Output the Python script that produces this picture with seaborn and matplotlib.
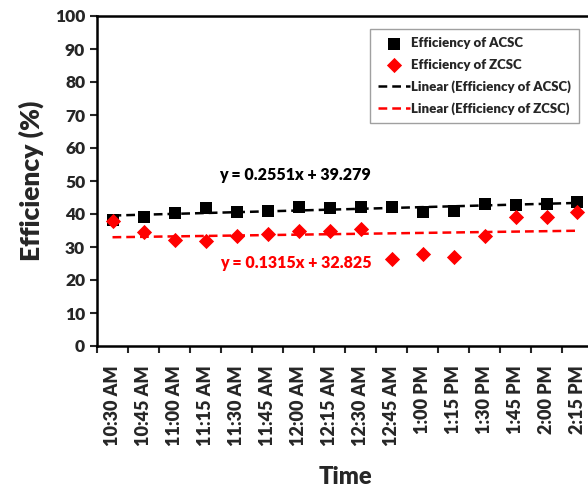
import numpy as np
import pandas as pd
import matplotlib.pyplot as plt
import seaborn as sns

# data
times = ['10:30 AM', '10:45 AM', '11:00 AM', '11:15 AM', '11:30 AM', '11:45 AM',
         '12:00 AM', '12:15 AM', '12:30 AM', '12:45 AM', '1:00 PM', '1:15 PM',
         '1:30 PM', '1:45 PM', '2:00 PM', '2:15 PM']
acsc = [38.2, 39.2, 40.2, 41.7, 40.7, 40.9, 42.2, 41.7, 42.2, 42.2, 40.7, 40.9,
        43.0, 42.7, 43.0, 43.7]
zcsc = [38.0, 34.6, 32.1, 31.8, 33.4, 33.8, 34.8, 34.8, 35.6, 26.4, 27.9, 26.9,
        33.4, 39.2, 39.2, 40.5]
# trend line coefficients (slope, intercept) as printed on the chart
acsc_fit = [0.2551, 39.279]
zcsc_fit = [0.1315, 32.825]

sns.set_style("ticks")
plt.rcParams['font.family'] = ['Lato', 'DejaVu Sans']
plt.rcParams['font.weight'] = 'heavy'

W = 'heavy'

df = pd.DataFrame({'pos': np.arange(len(times)), 'acsc': acsc, 'zcsc': zcsc})
n = np.arange(1, len(times) + 1)
df['acsc_lin'] = np.polyval(acsc_fit, n)
df['zcsc_lin'] = np.polyval(zcsc_fit, n)

fig = plt.figure(figsize=(5.88, 5.0), dpi=100)
ax = fig.add_axes([0.165, 0.308, 0.8435, 0.66])

sns.scatterplot(data=df, x='pos', y='acsc', marker='s', s=75, color='black',
                edgecolor='black', linewidth=0, label='Efficiency of ACSC', ax=ax, zorder=3)
sns.scatterplot(data=df, x='pos', y='zcsc', marker='D', s=60, color='#ff0000',
                edgecolor='#ff0000', linewidth=0, label='Efficiency of ZCSC', ax=ax, zorder=4)
sns.lineplot(data=df, x='pos', y='acsc_lin', color='black', linestyle=(0, (3.5, 2)),
             linewidth=1.8, label='Linear (Efficiency of ACSC)', ax=ax, zorder=2)
sns.lineplot(data=df, x='pos', y='zcsc_lin', color='#ff0000', linestyle=(0, (3.5, 2)),
             linewidth=1.8, label='Linear (Efficiency of ZCSC)', ax=ax, zorder=2)

ax.text(5.9, 51.8, 'y = 0.2551x + 39.279', ha='center', va='center',
        fontsize=11.5, fontweight=W, color='black')
ax.text(5.9, 25.1, 'y = 0.1315x + 32.825', ha='center', va='center',
        fontsize=11.5, fontweight=W, color='#ff0000')

ax.set_xlim(-0.5, len(times) - 0.5)
ax.set_ylim(0, 100)
ax.set_yticks(range(0, 101, 10))
ax.set_xticks(df['pos'])
ax.set_xticklabels(times, rotation=90, fontsize=13, fontweight=W)
ax.set_xticks(np.arange(-0.5, len(times), 1), minor=True)
ax.tick_params(axis='x', which='major', length=0, pad=14)
ax.tick_params(axis='x', which='minor', length=5, width=1.5)
ax.tick_params(axis='y', length=5, width=1.5, labelsize=12.5)
for lab in ax.get_yticklabels():
    lab.set_fontweight(W)

for side in ['left', 'bottom', 'top', 'right']:
    ax.spines[side].set_visible(True)
    ax.spines[side].set_linewidth(1.8)
    ax.spines[side].set_color('black')

ax.set_xlabel('Time', fontsize=17, fontweight=W, labelpad=14)
ax.set_ylabel('Efficiency (%)', fontsize=19, fontweight=W, labelpad=8)

leg = ax.legend(loc='upper right', bbox_to_anchor=(0.985, 0.98), fontsize=9.5,
                frameon=True, fancybox=False, edgecolor='#888888',
                handlelength=2.4, handletextpad=0.1, labelspacing=0.72,
                borderpad=0.6, markerfirst=True)
leg.get_frame().set_linewidth(1.0)
for t in leg.get_texts():
    t.set_fontweight(W)

fig.savefig('out.png', dpi=100)
